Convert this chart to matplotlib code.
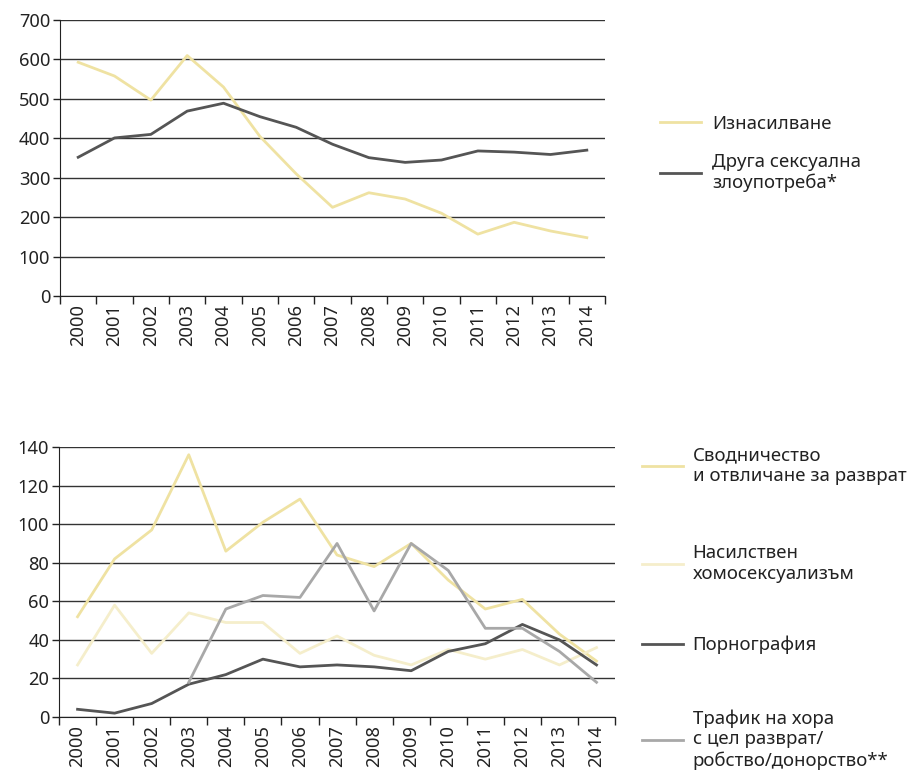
import matplotlib.pyplot as plt
import numpy as np

plt.rcParams['font.family'] = ['Noto Sans', 'DejaVu Sans']

years = [str(y) for y in range(2000, 2015)]

# горна графика
iznasilvane = [593, 558, 497, 610, 530, 405, 310, 225, 262, 246, 210, 157, 187, 165, 148]
druga = [352, 401, 410, 469, 489, 455, 428, 385, 351, 339, 345, 368, 365, 359, 370]

# долна графика
svodnichestvo = [52, 82, 97, 136, 86, 101, 113, 84, 78, 90, 71, 56, 61, 43, 29]
nasilstven = [27, 58, 33, 54, 49, 49, 33, 42, 32, 27, 35, 30, 35, 27, 36]
pornografia = [4, 2, 7, 17, 22, 30, 26, 27, 26, 24, 34, 38, 48, 40, 27]
trafik = [np.nan, np.nan, np.nan, 18, 56, 63, 62, 90, 55, 90, 76, 46, 46, 34, 18]

labels_top = ['Изнасилване', 'Друга сексуална\nзлоупотреба*']
labels_bottom = ['Сводничество\nи отвличане за разврат', 'Насилствен\nхомосексуализъм',
                 'Порнография', 'Трафик на хора\nс цел разврат/\nробство/донорство**']

c_yellow = '#efe2a2'
c_pale = '#f5eecb'
c_dark = '#555555'
c_gray = '#a8a8a8'
c_text = '#222222'
fs_tick = 13.2
fs_leg = 13.4

W, H = 915, 777
fig = plt.figure(figsize=(W / 100, H / 100), dpi=100)
ax1 = fig.add_axes([0.0656, 0.619, 0.5956, 0.3552])
ax2 = fig.add_axes([0.0645, 0.0772, 0.6077, 0.3475])


def style_axis(ax, top, step):
    ax.set_xlim(-0.5, len(years) - 0.5)
    ax.set_ylim(0, top)
    ax.set_yticks(np.arange(0, top + 1, step))
    ax.set_xticks(np.arange(len(years)))
    ax.set_xticklabels(years, rotation=90)
    ax.set_xticks(np.arange(-0.5, len(years)), minor=True)
    ax.tick_params(axis='x', which='major', length=0, labelsize=fs_tick, pad=6)
    ax.tick_params(axis='x', which='minor', length=6, width=1)
    ax.tick_params(axis='y', length=5, width=1, labelsize=fs_tick, pad=2)
    ax.tick_params(colors=c_text, which='both')
    ax.grid(axis='y', color='#333333', linewidth=1)
    ax.set_axisbelow(True)
    for s in ['top', 'right']:
        ax.spines[s].set_visible(False)
    ax.spines['left'].set_color(c_text)
    ax.spines['bottom'].set_color(c_text)


# легенда - всеки запис поотделно, за да се нагласи разстоянието
def add_key(line, label, x_px, y_px, pad):
    leg = fig.legend([line], [label], loc='upper left',
                     bbox_to_anchor=(x_px / W, 1 - y_px / H), bbox_transform=fig.transFigure,
                     frameon=False, fontsize=fs_leg, borderpad=0, borderaxespad=0,
                     handlelength=2.2, handletextpad=pad)
    for t in leg.get_texts():
        t.set_color(c_text)


x = np.arange(len(years))
lw = 2.0

l1, = ax1.plot(x, iznasilvane, color=c_yellow, linewidth=lw)
l2, = ax1.plot(x, druga, color=c_dark, linewidth=lw)
style_axis(ax1, 700, 100)
for line, lab, y in zip([l1, l2], labels_top, [115, 153]):
    add_key(line, lab, 660, y, 0.62)

m1, = ax2.plot(x, svodnichestvo, color=c_yellow, linewidth=lw)
m2, = ax2.plot(x, nasilstven, color=c_pale, linewidth=lw)
m3, = ax2.plot(x, pornografia, color=c_dark, linewidth=lw)
m4, = ax2.plot(x, trafik, color=c_gray, linewidth=lw)
style_axis(ax2, 140, 20)
for line, lab, y in zip([m1, m2, m3, m4], labels_bottom, [446, 544, 636, 709]):
    add_key(line, lab, 642, y, 0.52)

fig.savefig('out.png', dpi=100)
